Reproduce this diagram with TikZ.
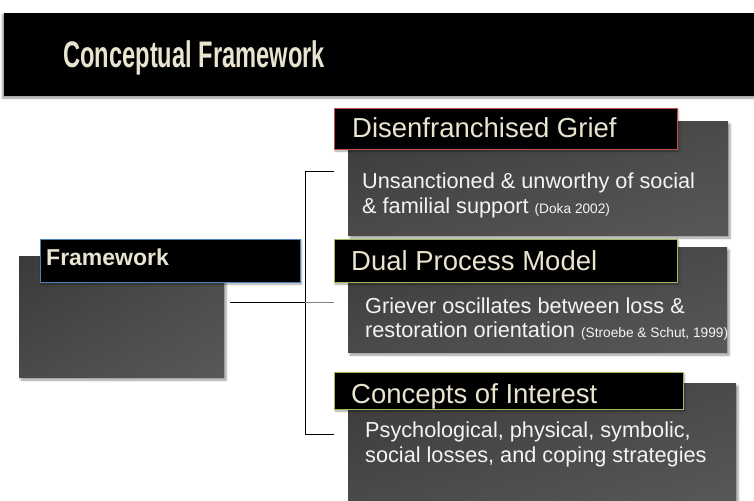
\documentclass[tikz,border=0pt]{standalone}
\usepackage{fontspec}
\setmainfont{Liberation Sans}
\newfontfamily\titlefont[FakeStretch=0.64]{Liberation Sans}
\usetikzlibrary{shadows.blur,shadings}
\definecolor{cream}{RGB}{232,228,208}
\definecolor{bodytxt}{RGB}{244,244,244}
\definecolor{bodyA}{RGB}{58,58,58}
\definecolor{bodyB}{RGB}{74,74,74}
\definecolor{bodyC}{RGB}{88,88,88}
\definecolor{redb}{RGB}{192,80,77}
\definecolor{greenb}{RGB}{155,187,89}
\definecolor{blueb}{RGB}{79,129,189}
\begin{document}
\begin{tikzpicture}[x=1pt,y=-1pt,
  bodybox/.style={shade, upper left=bodyA, upper right=bodyB, lower left=bodyB, lower right=bodyC,
    inner sep=0, outer sep=0,
    blur shadow={shadow xshift=2pt, shadow yshift=-3pt, shadow blur steps=6, shadow opacity=40}},
  headbox/.style={fill=black, draw=#1, line width=0.9pt, inner sep=0, outer sep=0,
    blur shadow={shadow xshift=1.5pt, shadow yshift=-2pt, shadow blur steps=5, shadow opacity=35}},
  headtxt/.style={anchor=base west, inner sep=0, text=cream, font=\fontsize{27.5}{30}\selectfont},
  bodyline/.style={anchor=base west, inner sep=0, text=bodytxt, font=\fontsize{21.7}{24}\selectfont},
  cite/.style={font=\fontsize{13.7}{15}\selectfont},
  link/.style={line width=0.8pt, draw=black}
]
\useasboundingbox (0,0) rectangle (754,500);
\begin{scope}
\clip (0,0) rectangle (754,500);
% title bar
\node[fill=black, inner sep=0, minimum width=760pt, minimum height=83pt,
  blur shadow={shadow xshift=-1pt, shadow yshift=-2pt, shadow blur steps=5, shadow opacity=40}]
  (titlebar) at (383.5,54.5) {};
\node[anchor=base west, inner sep=0, text=cream, font=\titlefont\bfseries\fontsize{37}{40}\selectfont]
  (title) at (63,68) {Conceptual Framework};

% framework
\node[bodybox, minimum width=205pt, minimum height=121pt] (fwbody) at (121.5,316.5) {};
\node[headbox=blueb, minimum width=260pt, minimum height=43pt] (fwhead) at (170,260.5) {};
\node[anchor=base west, inner sep=0, text=cream, font=\bfseries\fontsize{23}{26}\selectfont]
  (fwtxt) at (46,265) {Framework};

% box 1
\node[bodybox, minimum width=380pt, minimum height=114pt] (b1body) at (538,178) {};
\node[headbox=redb, minimum width=343pt, minimum height=41pt] (b1head) at (505.5,128.5) {};
\node[headtxt] (b1title) at (352,137) {Disenfranchised Grief};
\node[bodyline] (b1l1) at (362,188) {Unsanctioned \& unworthy of social};
\node[bodyline] (b1l2) at (362,213) {\& familial support {\fontsize{13.7}{15}\selectfont (Doka 2002)}};

% box 2
\node[bodybox, minimum width=379pt, minimum height=105pt] (b2body) at (537.5,299.5) {};
\node[headbox=greenb, minimum width=343pt, minimum height=43pt] (b2head) at (505.5,260.5) {};
\node[headtxt] (b2title) at (351,270) {Dual Process Model};
\node[bodyline] (b2l1) at (365,313) {Griever oscillates between loss \&};
\node[bodyline] (b2l2) at (365,337) {restoration orientation {\fontsize{13.7}{15}\selectfont (Stroebe \& Schut, 1999)}};

% box 3
\node[bodybox, minimum width=388pt, minimum height=122pt] (b3body) at (542,444) {};
\node[headbox=greenb, minimum width=349pt, minimum height=37pt] (b3head) at (508.5,390.5) {};
\node[headtxt] (b3title) at (351,403) {Concepts of Interest};
\node[bodyline] (b3l1) at (365,437) {Psychological, physical, symbolic,};
\node[bodyline] (b3l2) at (365,462) {social losses, and coping strategies};
\end{scope}

% connectors
\coordinate (j1) at (305,171);
\coordinate (j2) at (305,302);
\coordinate (j3) at (305,434);
\coordinate (e1) at (334,171);
\coordinate (e2) at (334,302);
\coordinate (e3) at (334,434);
\draw[link, shorten <=6pt] (fwbody.east |- j2) -- (j2);
\draw[link] (e1) -- (j1) -- (j3) -- (e3);
\draw[line width=1pt, draw=gray] (j2) -- (e2);
\end{tikzpicture}
\end{document}
